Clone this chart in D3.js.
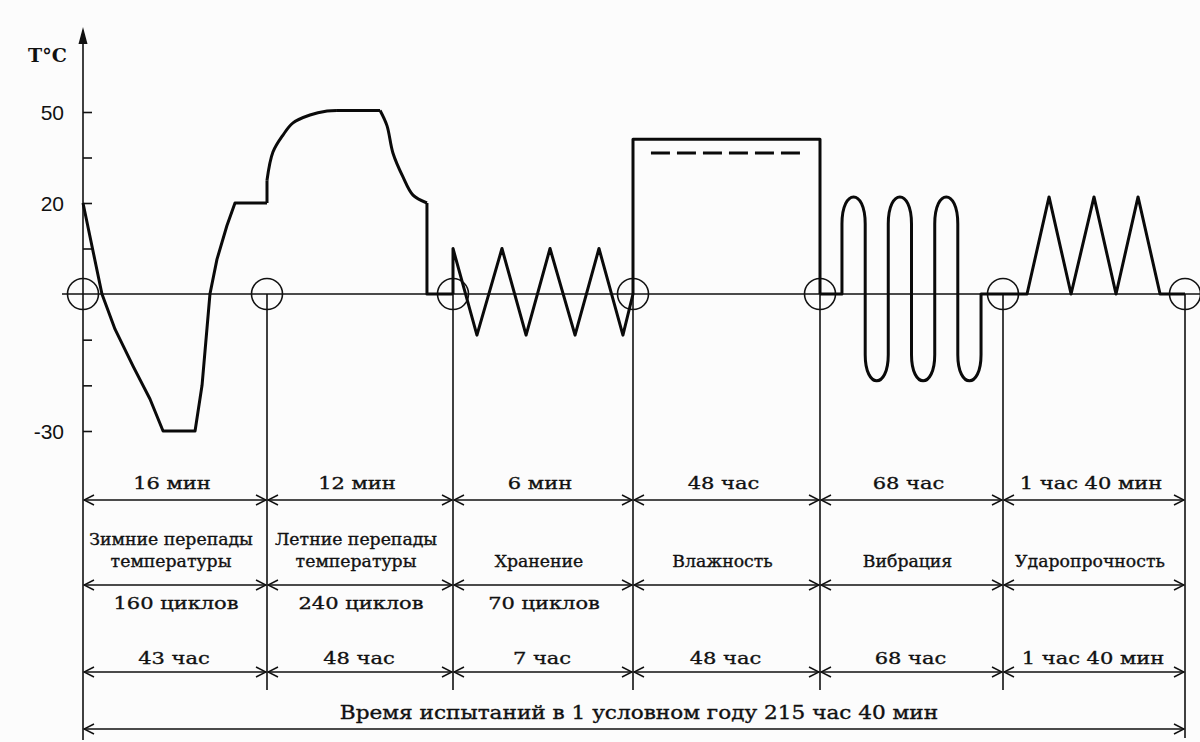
<!DOCTYPE html>
<html>
<head>
<meta charset="utf-8">
<script src="https://d3js.org/d3.v7.min.js"></script>
<style>
  body { margin: 0; background: #fcfcfc; }
  .thin { stroke: #111; stroke-width: 1.6px; fill: none; }
  .curve { stroke: #0a0a0a; stroke-width: 3px; fill: none; stroke-linejoin: round; }
  .lbl { font-family: "DejaVu Serif", serif; fill: #111; stroke: #111; stroke-width: 0.35px; }
  .tick text { font-family: "Liberation Sans", Arial, sans-serif; font-size: 21px; fill: #111; }
</style>
</head>
<body>
<svg id="chart" width="1200" height="742"></svg>
<script>
// temperature axis
const tempTicks = [-30, -20, -10, 10, 20, 35, 50];
const tempLabels = [50, 20, -30];

// stages of the test (table rows)
const stageDuration = ['16 мин', '12 мин', '6 мин', '48 час', '68 час', '1 час 40 мин'];
const stageNames = [
  ['Зимние перепады', 'температуры'],
  ['Летние перепады', 'температуры'],
  ['Хранение'],
  ['Влажность'],
  ['Вибрация'],
  ['Ударопрочность']
];
const stageCycles = ['160 циклов', '240 циклов', '70 циклов', '', '', ''];
const stageTotal = ['43 час', '48 час', '7 час', '48 час', '68 час', '1 час 40 мин'];
const totalLabel = 'Время испытаний в 1 условном году 215 час 40 мин';

// temperature profiles, [position inside stage 0..1, °C]
const winterProfile = [[0, 20], [0.103, 0], [0.174, -7.7], [0.272, -15.8], [0.364, -23], [0.435, -30],
  [0.609, -30], [0.647, -20], [0.69, 0], [0.728, 7.6], [0.782, 15], [0.826, 20], [1, 20]];
const summerRise = [[0, 27.5], [0.032, 36.8], [0.086, 42.4], [0.14, 46.4], [0.231, 49],
  [0.323, 50.3], [0.376, 50.5]];
const summerFall = [[0.608, 50.5], [0.645, 45.5], [0.677, 36.5], [0.731, 28.6],
  [0.785, 22.6], [0.86, 20]];
const storageProfile = [[0, 0], [0, 10], [0.133, -9], [0.272, 10], [0.406, -9], [0.539, 10],
  [0.678, -9], [0.811, 10], [0.944, -9], [1, 0]];
const humidityProfile = [[0, 0], [0, 41], [1, 41], [1, 0]];
const humidityDashed = [[0.096, 36.5], [0.92, 36.5]];
const vibrationSides = [0.12, 0.247, 0.373, 0.5, 0.627, 0.753, 0.88];
const vibrationExtremes = [22, -19, 22, -19, 22, -19];
const shockProfile = [[0, 0], [0.132, 0], [0.253, 22], [0.374, 0], [0.5, 22], [0.621, 0],
  [0.742, 22], [0.863, 0], [1, 0]];

const svg = d3.select('#chart');
const stages = d3.range(stageDuration.length + 1);
const x = d3.scaleLinear().domain(stages).range([83, 267, 453, 633, 820, 1003, 1185]);
const y = d3.scaleLinear().domain([-30, 0, 20, 50]).range([431, 294, 203, 112]);

const rowDur = 500, rowName = 585, rowTot = 672, rowAll = 729;

const defs = svg.append('defs');
defs.append('marker')
  .attr('id', 'chev').attr('viewBox', '-11 -6 12 12')
  .attr('refX', 0).attr('refY', 0)
  .attr('markerWidth', 12).attr('markerHeight', 12)
  .attr('markerUnits', 'userSpaceOnUse')
  .attr('orient', 'auto-start-reverse')
  .append('path').attr('d', 'M-10,-5 L0,0 L-10,5')
  .attr('fill', 'none').attr('stroke', '#111').attr('stroke-width', 1.5);

// y axis
const axis = d3.axisLeft(y).tickValues(tempTicks).tickSize(10).tickPadding(9)
  .tickFormat(d => tempLabels.includes(d) ? d : '');
const gAxis = svg.append('g').attr('transform', `translate(${x(0)},0)`).call(axis);
gAxis.select('.domain').remove();
gAxis.selectAll('.tick line').attr('x2', 9).attr('stroke', '#111').attr('stroke-width', 1.6);
gAxis.selectAll('.tick text').attr('dy', '0.36em');

svg.append('line').attr('class', 'thin')
  .attr('x1', x(0)).attr('x2', x(0)).attr('y1', 34).attr('y2', 740);
svg.append('path')
  .attr('d', `M${x(0)},27 L${x(0) - 4.5},44 L${x(0) + 4.5},44 Z`).attr('fill', '#111');
svg.append('text').attr('x', 28).attr('y', 62)
  .attr('font-family', 'DejaVu Serif, serif').attr('font-weight', 'bold').attr('font-size', 19)
  .attr('fill', '#111').text('T°C');

// zero line
svg.append('line').attr('class', 'thin')
  .attr('x1', 62).attr('x2', 1200).attr('y1', y(0)).attr('y2', y(0));

// boundary lines down through the table
stages.slice(1).forEach(i => {
  svg.append('line').attr('class', 'thin')
    .attr('x1', x(i)).attr('x2', x(i))
    .attr('y1', y(0)).attr('y2', i === stages.length - 1 ? 738 : 690);
});

// circles at stage boundaries
svg.selectAll('circle.mark').data(stages).join('circle')
  .attr('class', 'thin mark')
  .attr('cx', d => x(d)).attr('cy', y(0)).attr('r', 15.5)
  .attr('stroke-width', 1.4);

// temperature curves
const line = d3.line().x(d => x(d[0])).y(d => y(d[1]));
const smooth = d3.line().x(d => x(d[0])).y(d => y(d[1])).curve(d3.curveCatmullRom.alpha(0.5));
const toGlobal = (profile, s) => profile.map(p => [s + p[0], p[1]]);

[[winterProfile, 0], [storageProfile, 2], [humidityProfile, 3], [shockProfile, 5]]
  .forEach(([p, s]) => {
    svg.append('path').attr('class', 'curve').attr('d', line(toGlobal(p, s)));
  });

// summer: vertical step, smooth rise, flat top, smooth fall, drop to zero
const rise = toGlobal(summerRise, 1), fall = toGlobal(summerFall, 1);
svg.append('path').attr('class', 'curve').attr('d', line([[1, 20], rise[0]]));
svg.append('path').attr('class', 'curve').attr('d', smooth(rise));
svg.append('path').attr('class', 'curve').attr('d', line([rise[rise.length - 1], fall[0]]));
svg.append('path').attr('class', 'curve').attr('d', smooth(fall));
svg.append('path').attr('class', 'curve')
  .attr('d', line([fall[fall.length - 1], [fall[fall.length - 1][0], 0], [2, 0]]));

svg.append('path').attr('class', 'curve')
  .attr('stroke-dasharray', '19 7').attr('stroke-width', 2.6)
  .attr('d', line(toGlobal(humidityDashed, 3)));

// vibration: rounded lobes between vertical sides
const vib = d3.path();
vib.moveTo(x(4), y(0));
vib.lineTo(x(4 + vibrationSides[0]), y(0));
vibrationExtremes.forEach((p, k) => {
  const a = x(4 + vibrationSides[k]), b = x(4 + vibrationSides[k + 1]);
  const pb = y(p * 0.7), pp = y(p);
  const pc = pb + (pp - pb) * 4 / 3;
  vib.lineTo(a, pb);
  vib.bezierCurveTo(a, pc, b, pc, b, pb);
});
vib.lineTo(x(4 + vibrationSides[vibrationSides.length - 1]), y(0));
vib.lineTo(x(5), y(0));
svg.append('path').attr('class', 'curve').attr('d', vib.toString());

// table
function label(cx, by, txt, size, sx) {
  svg.append('text').attr('class', 'lbl')
    .attr('text-anchor', 'middle')
    .attr('font-size', size)
    .attr('transform', `translate(${cx},${by}) scale(${sx},1)`)
    .text(txt);
}
function arrow(x1, x2, yy) {
  svg.append('line').attr('class', 'thin')
    .attr('x1', x1 + 1).attr('x2', x2 - 1).attr('y1', yy).attr('y2', yy)
    .attr('marker-start', 'url(#chev)').attr('marker-end', 'url(#chev)');
}

stageDuration.forEach((d, i) => {
  const cx = (x(i) + x(i + 1)) / 2;
  arrow(x(i), x(i + 1), rowDur);
  arrow(x(i), x(i + 1), rowName);
  arrow(x(i), x(i + 1), rowTot);
  label(cx - 3, rowDur - 11, d, 17.5, 1.2);
  const names = stageNames[i];
  if (names.length === 2) {
    label(cx - 4, 545, names[0], 16, 1.08);
    label(cx - 4, 567, names[1], 16, 1.08);
  } else {
    label(cx - 4, 567, names[0], 16, 1.08);
  }
  if (stageCycles[i]) label(cx + 1, 609, stageCycles[i], 17.5, 1.2);
  label(cx - 1, rowTot - 8, stageTotal[i], 17.5, 1.2);
});

arrow(x(0), x(6), rowAll);
label(639, 719, totalLabel, 18, 1.2);
</script>
</body>
</html>
